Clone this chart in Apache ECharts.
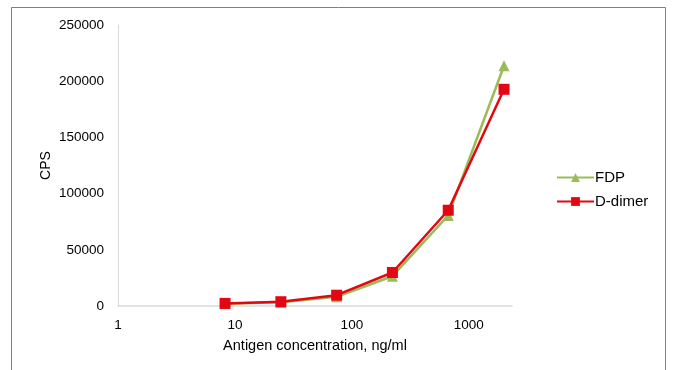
<!DOCTYPE html>
<html>
<head>
<meta charset="utf-8">
<script src="https://cdn.jsdelivr.net/npm/echarts@6/dist/echarts.min.js"></script>
<style>
html,body{margin:0;padding:0;background:#fff;}
#c{width:673px;height:370px;}
</style>
</head>
<body>
<div id="c"></div>
<script>
var concentrations = [8.23, 24.7, 74.1, 222.2, 666.7, 2000];
var fdpValues = [2000, 3400, 8200, 26500, 80500, 213800];
var ddimerValues = [2300, 3800, 9600, 29800, 85200, 192800];
var seriesNames = ['FDP', 'D-dimer'];
var yTicks = [0, 50000, 100000, 150000, 200000, 250000];

function pairs(xs, ys){ return xs.map(function(x,i){ return [x, ys[i]]; }); }

var chart = echarts.init(document.getElementById('c'), null, {renderer:'canvas'});
var font = 'Liberation Sans, Arial, sans-serif';
chart.setOption({
  animation:false,
  textStyle:{fontFamily:font},
  graphic:[{type:'rect', shape:{x:11.5,y:7.5,width:654,height:380}, style:{fill:'none', stroke:'#7f7f7f', lineWidth:1}, silent:true}],
  grid:{left:118, right:161, top:25, bottom:64, containLabel:false},
  legend:{
    orient:'vertical', left:556, top:170, padding:0, itemWidth:37, itemHeight:11, itemGap:9,
    textStyle:{fontFamily:font, fontSize:15, color:'#000', padding:[0,0,0,-4]},
    data:seriesNames
  },
  xAxis:{
    type:'log', logBase:10, min:1, max:2340, interval:1,
    name:'Antigen concentration, ng/ml', nameLocation:'middle', nameGap:32,
    nameTextStyle:{fontFamily:font, fontSize:14.5, color:'#000'},
    axisLine:{show:true, lineStyle:{color:'#d9d9d9', width:1.5}},
    axisTick:{show:false},
    splitLine:{show:false},
    minorTick:{show:false}, minorSplitLine:{show:false},
    axisLabel:{fontFamily:font, fontSize:13.5, color:'#000', margin:12, showMaxLabel:false,
      formatter:function(v){ return String(Math.round(v)); }}
  },
  yAxis:{
    type:'value', min:yTicks[0], max:yTicks[yTicks.length-1], interval:50000,
    name:'CPS', nameLocation:'middle', nameGap:65, nameRotate:90, nameMoveOverlap:false,
    nameTextStyle:{fontFamily:font, fontSize:14, color:'#000'},
    axisLine:{show:true, lineStyle:{color:'#d9d9d9', width:1}},
    axisTick:{show:false},
    splitLine:{show:false},
    axisLabel:{fontFamily:font, fontSize:13.5, color:'#000', margin:14,
      formatter:function(v){ return String(v); }}
  },
  series:[
    {name:seriesNames[0], type:'line', data:pairs(concentrations, fdpValues),
     symbol:'triangle', symbolSize:11, lineStyle:{color:'#9bbb59', width:2.5},
     itemStyle:{color:'#9bbb59'}, z:2},
    {name:seriesNames[1], type:'line', data:pairs(concentrations, ddimerValues),
     symbol:'rect', symbolSize:11, lineStyle:{color:'#e30613', width:2.5},
     itemStyle:{color:'#e30613'}, z:3}
  ]
});
</script>
</body>
</html>
